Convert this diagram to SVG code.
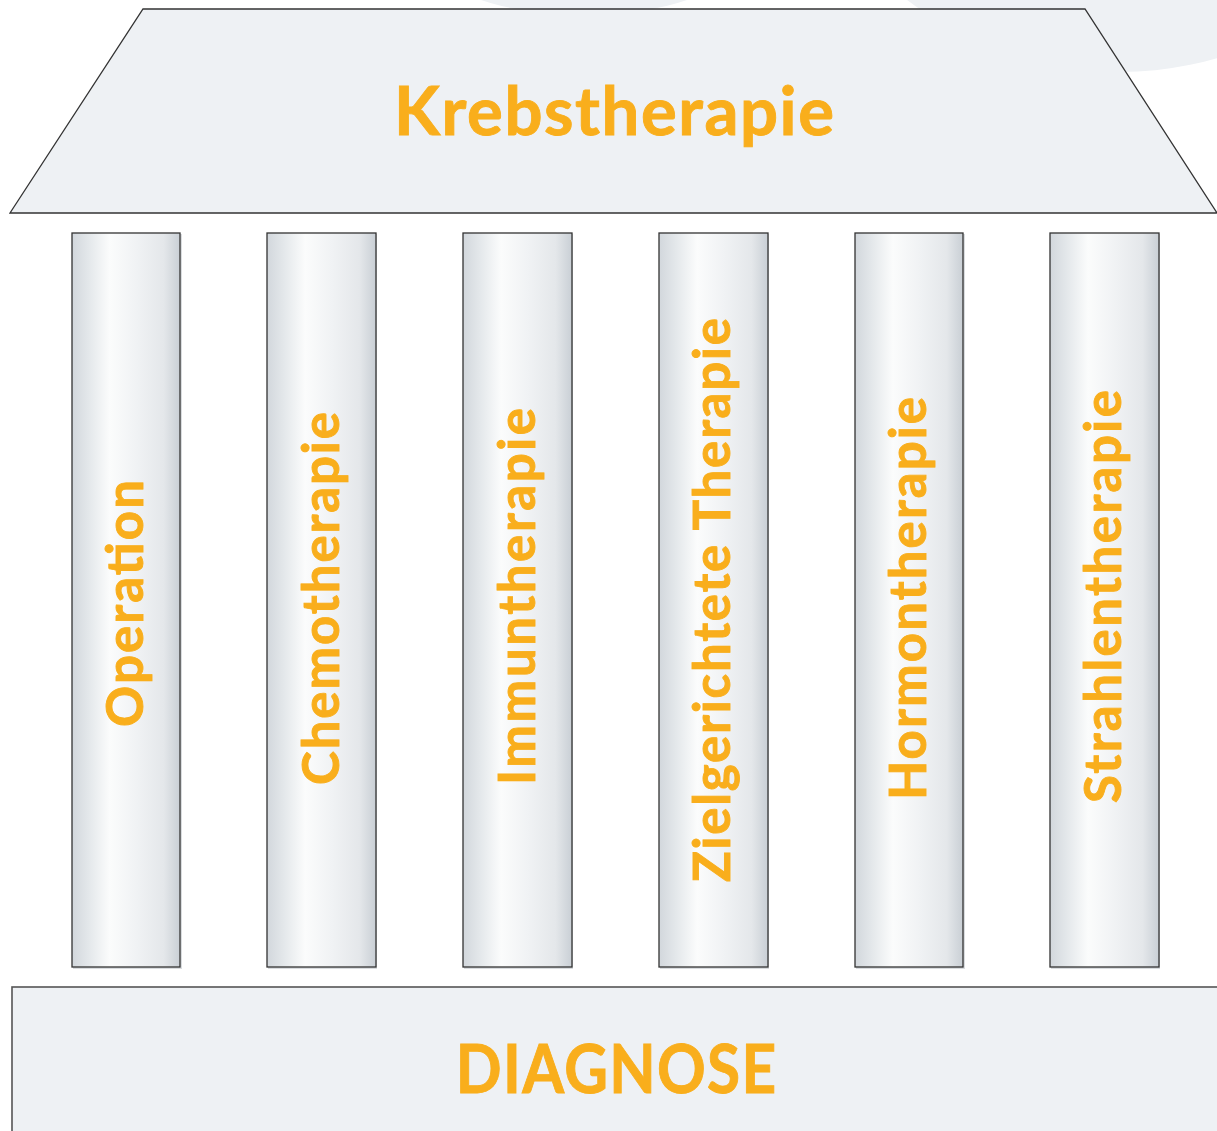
<svg xmlns="http://www.w3.org/2000/svg" width="1217" height="1131" viewBox="0 0 1217 1131">
<defs>
<linearGradient id="pil" x1="0" y1="0" x2="1" y2="0">
<stop offset="0" stop-color="#d2d7dc"/>
<stop offset="0.15" stop-color="#e3e7ea"/>
<stop offset="0.35" stop-color="#fbfcfc"/>
<stop offset="0.6" stop-color="#f0f2f4"/>
<stop offset="0.85" stop-color="#e4e7ea"/>
<stop offset="1" stop-color="#c9cfd5"/>
</linearGradient>
<style>
.bg{fill:#eef1f4}
.pillar{fill:url(#pil);stroke:#333;stroke-width:1.3}
.shadow{fill:#d9dcdf}
.roof{fill:#eef1f4;stroke:#333;stroke-width:1.3}
.base{fill:#eef1f4;stroke:#555;stroke-width:1.6}
.t{fill:#f9ae1c;stroke:#f9ae1c;stroke-width:0.9;font-family:Lato,"Open Sans","Liberation Sans",sans-serif;font-weight:700}
.big{font-size:67px}
.col{font-size:51px}
</style>
</defs>
<rect width="1217" height="1131" fill="#ffffff"/>
<ellipse class="bg" cx="584" cy="-40" rx="150" ry="55"/>
<ellipse class="bg" cx="1120" cy="-300" rx="360" ry="372"/>

<g id="roof">
<polygon class="roof" points="143,9 1085,9 1217,213 10,213"/>
<text class="t big" x="614" y="135" text-anchor="middle" textLength="440">Krebstherapie</text>
</g>

<g id="pillar-operation">
<rect class="shadow" x="73" y="234" width="109" height="735"/>
<rect class="pillar" x="72" y="233" width="108" height="734"/>
<text class="t col" transform="translate(143,727) rotate(-90)" textLength="247">Operation</text>
</g>
<g id="pillar-chemotherapie">
<rect class="shadow" x="268" y="234" width="109" height="735"/>
<rect class="pillar" x="267" y="233" width="109" height="734"/>
<text class="t col" transform="translate(339,785) rotate(-90)" textLength="373">Chemotherapie</text>
</g>
<g id="pillar-immuntherapie">
<rect class="shadow" x="464" y="234" width="109" height="735"/>
<rect class="pillar" x="463" y="233" width="109" height="734"/>
<text class="t col" transform="translate(535,785) rotate(-90)" textLength="377">Immuntherapie</text>
</g>
<g id="pillar-zielgerichtete">
<rect class="shadow" x="660" y="234" width="109" height="735"/>
<rect class="pillar" x="659" y="233" width="109" height="734"/>
<text class="t col" transform="translate(730,882) rotate(-90)" textLength="564">Zielgerichtete Therapie</text>
</g>
<g id="pillar-hormontherapie">
<rect class="shadow" x="856" y="234" width="109" height="735"/>
<rect class="pillar" x="855" y="233" width="108" height="734"/>
<text class="t col" transform="translate(926,800) rotate(-90)" textLength="403">Hormontherapie</text>
</g>
<g id="pillar-strahlentherapie">
<rect class="shadow" x="1051" y="234" width="109" height="735"/>
<rect class="pillar" x="1050" y="233" width="109" height="734"/>
<text class="t col" transform="translate(1121,803) rotate(-90)" textLength="413">Strahlentherapie</text>
</g>

<g id="base">
<rect class="base" x="12" y="987" width="1220" height="160"/>
<text class="t big" transform="translate(616,1093) scale(0.9,1)" x="0" y="0" text-anchor="middle" textLength="356">DIAGNOSE</text>
</g>
<g id="connectors"/>
</svg>
